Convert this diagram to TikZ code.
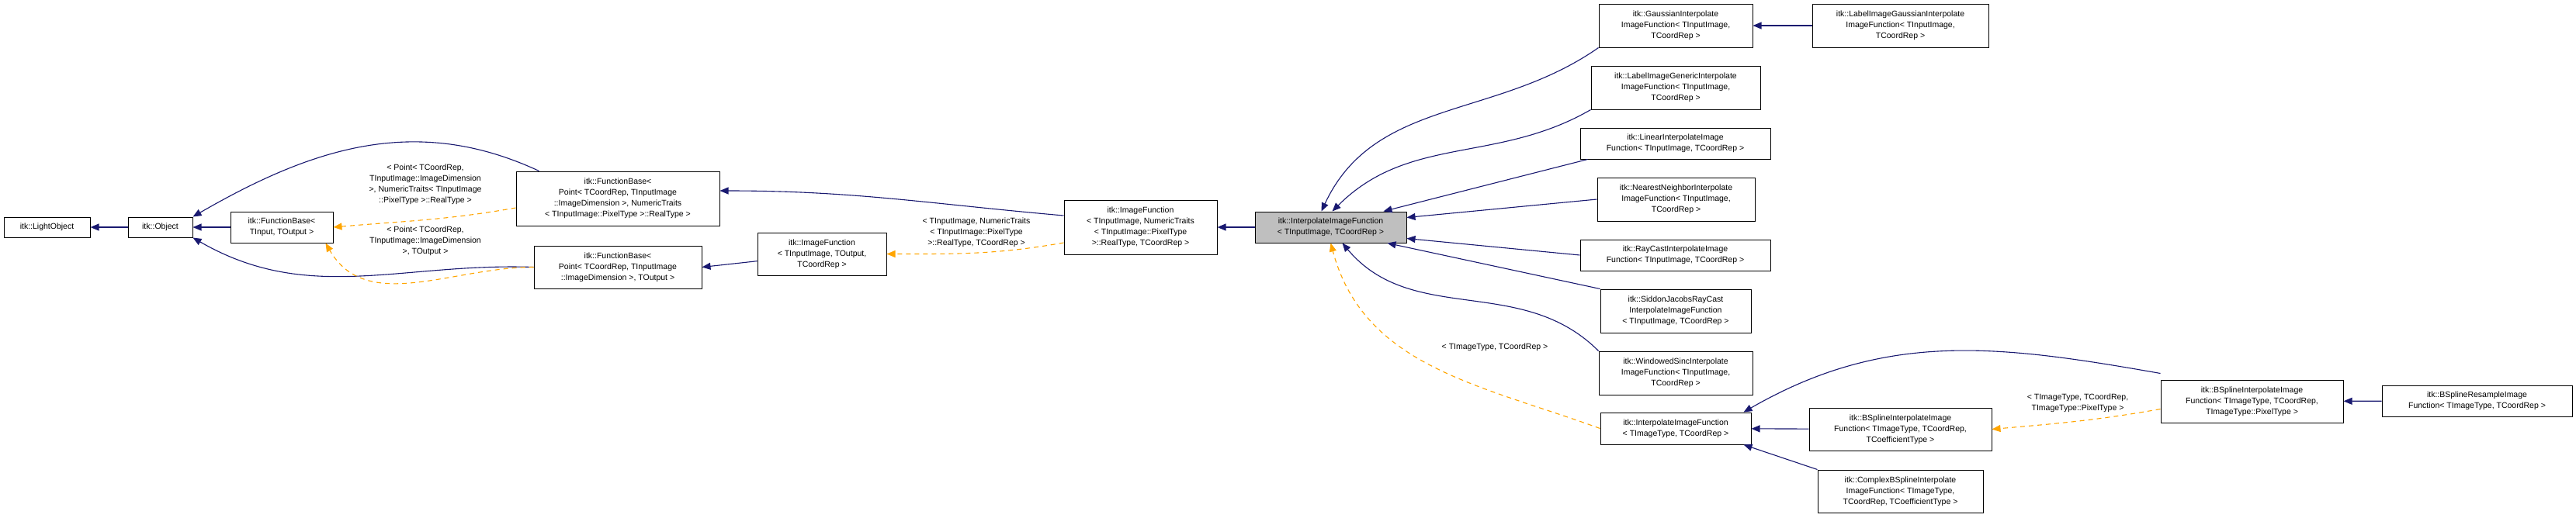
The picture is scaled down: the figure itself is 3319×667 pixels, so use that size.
\documentclass[tikz,border=0pt]{standalone}
\usepackage{fontspec}
\setmainfont{Liberation Sans}
\usetikzlibrary{arrows.meta}
\begin{document}
\begin{tikzpicture}[x=1pt,y=1pt,
  box/.style={draw=black,line width=1pt,fill=white,inner sep=2pt,align=center,font=\fontsize{10.5}{14}\selectfont},
  inh/.style={draw={rgb,255:red,25;green,25;blue,112},line width=1.1pt,-{Triangle[width=9pt,length=11pt]}},
  tpl/.style={draw={rgb,255:red,255;green,165;blue,0},line width=1.1pt,dash pattern=on 6pt off 5pt,-{Triangle[width=9pt,length=11pt]}},
  lbl/.style={align=center,font=\fontsize{10.5}{14}\selectfont,inner sep=0pt}]
\useasboundingbox (0,0) rectangle (3319,-667);
\node[box,minimum width=111,minimum height=26] (lo) at (60.5,-293) {itk::LightObject};
\node[box,minimum width=83,minimum height=26] (ob) at (206.5,-293) {itk::Object};
\node[box,minimum width=132,minimum height=40] (fb1) at (363,-293) {itk::FunctionBase\textless\\TInput, TOutput \textgreater};
\node[box,minimum width=262,minimum height=70] (fb2) at (796,-256) {itk::FunctionBase\textless\\ Point\textless{} TCoordRep, TInputImage\\::ImageDimension \textgreater, NumericTraits\\\textless{} TInputImage::PixelType \textgreater::RealType \textgreater};
\node[box,minimum width=216,minimum height=55] (fb3) at (796,-344.5) {itk::FunctionBase\textless\\ Point\textless{} TCoordRep, TInputImage\\::ImageDimension \textgreater, TOutput \textgreater};
\node[box,minimum width=166,minimum height=55] (if1) at (1059,-327.5) {itk::ImageFunction\\\textless{} TInputImage, TOutput,\\ TCoordRep \textgreater};
\node[box,minimum width=197,minimum height=70] (if2) at (1469.5,-293) {itk::ImageFunction\\\textless{} TInputImage, NumericTraits\\\textless{} TInputImage::PixelType\\ \textgreater::RealType, TCoordRep \textgreater};
\node[box,fill={rgb,255:red,191;green,191;blue,191},minimum width=195,minimum height=40] (ip) at (1714.5,-293) {itk::InterpolateImageFunction\\\textless{} TInputImage, TCoordRep \textgreater};
\node[box,minimum width=198,minimum height=56] (ga) at (2159,-33) {itk::GaussianInterpolate\\ImageFunction\textless{} TInputImage,\\ TCoordRep \textgreater};
\node[box,minimum width=227,minimum height=56] (lga) at (2448.5,-33) {itk::LabelImageGaussianInterpolate\\ImageFunction\textless{} TInputImage,\\ TCoordRep \textgreater};
\node[box,minimum width=218,minimum height=56] (lge) at (2159,-113) {itk::LabelImageGenericInterpolate\\ImageFunction\textless{} TInputImage,\\ TCoordRep \textgreater};
\node[box,minimum width=245,minimum height=40] (li) at (2158.5,-185) {itk::LinearInterpolateImage\\Function\textless{} TInputImage, TCoordRep \textgreater};
\node[box,minimum width=203,minimum height=56] (nn) at (2159.5,-257) {itk::NearestNeighborInterpolate\\ImageFunction\textless{} TInputImage,\\ TCoordRep \textgreater};
\node[box,minimum width=245,minimum height=40] (rc) at (2158.5,-329) {itk::RayCastInterpolateImage\\Function\textless{} TInputImage, TCoordRep \textgreater};
\node[box,minimum width=194,minimum height=56] (sj) at (2159,-401) {itk::SiddonJacobsRayCast\\InterpolateImageFunction\\\textless{} TInputImage, TCoordRep \textgreater};
\node[box,minimum width=198,minimum height=56] (ws) at (2159,-481) {itk::WindowedSincInterpolate\\ImageFunction\textless{} TInputImage,\\ TCoordRep \textgreater};
\node[box,minimum width=194,minimum height=41] (ip2) at (2159,-552.5) {itk::InterpolateImageFunction\\\textless{} TImageType, TCoordRep \textgreater};
\node[box,minimum width=235,minimum height=55] (bsc) at (2448.5,-553.5) {itk::BSplineInterpolateImage\\Function\textless{} TImageType, TCoordRep,\\ TCoefficientType \textgreater};
\node[box,minimum width=213,minimum height=55] (cx) at (2448.5,-633.5) {itk::ComplexBSplineInterpolate\\ImageFunction\textless{} TImageType,\\ TCoordRep, TCoefficientType \textgreater};
\node[box,minimum width=235,minimum height=55] (bsp) at (2901.5,-517.5) {itk::BSplineInterpolateImage\\Function\textless{} TImageType, TCoordRep,\\ TImageType::PixelType \textgreater};
\node[box,minimum width=245,minimum height=40] (rs) at (3191.5,-517) {itk::BSplineResampleImage\\Function\textless{} TImageType, TCoordRep \textgreater};
% labels
\node[lbl] (l1) at (548,-238) {\textless{} Point\textless{} TCoordRep,\\TInputImage::ImageDimension\\\textgreater, NumericTraits\textless{} TInputImage\\::PixelType \textgreater::RealType \textgreater};
\node[lbl] (l2) at (548,-311) {\textless{} Point\textless{} TCoordRep,\\TInputImage::ImageDimension\\\textgreater, TOutput \textgreater};
\node[lbl] (l3) at (1258,-300) {\textless{} TInputImage, NumericTraits\\\textless{} TInputImage::PixelType\\\textgreater::RealType, TCoordRep \textgreater};
\node[lbl] (l4) at (1926,-448) {\textless{} TImageType, TCoordRep \textgreater};
\node[lbl] (l5) at (2677,-520) {\textless{} TImageType, TCoordRep,\\TImageType::PixelType \textgreater};
% edges
\draw[inh] (ob) -- (lo);
\draw[inh] (fb1) -- (ob);
\draw[inh] ([xshift=30]fb2.north west) to[out=155,in=30] (ob.north east);
\draw[inh] (fb3.west) to[out=178,in=-30] (ob.south east);
\draw[tpl] ([yshift=-12]fb2.west) to[out=190,in=5] (fb1.east);
\draw[tpl] (fb3.west) to[out=180,in=-60] ([xshift=-10]fb1.south east);
\draw[inh] (if1) -- (fb3.east);
\draw[inh] ([yshift=15]if2.west) to[out=175,in=0] ([yshift=10]fb2.east);
\draw[tpl] ([yshift=-20]if2.west) to[out=190,in=0] (if1.east);
\draw[inh] (ip) -- (if2);
\draw[inh] (ga.south west) to[out=-145,in=65] ([xshift=-12]ip.north);
\draw[inh] (lge.south west) to[out=-150,in=45] ([xshift=2]ip.north);
\draw[inh] ([xshift=10]li.south west) -- ([xshift=-30]ip.north east);
\draw[inh] (nn.west) -- ([yshift=-8]ip.north east);
\draw[inh] (rc.west) -- ([yshift=6]ip.south east);
\draw[inh] (sj.north west) -- ([xshift=-25]ip.south east);
\draw[inh] (ws.north west) to[out=135,in=-50] ([xshift=15]ip.south);
\draw[tpl] (ip2.west) to[out=160,in=-75] ([xshift=0]ip.south);
\draw[inh] (lga) -- (ga);
\draw[inh] (bsc) -- (ip2);
\draw[inh] (cx.north west) -- ([xshift=-10]ip2.south east);
\draw[inh] ([yshift=8]bsp.north west) to[out=170,in=30] ([xshift=-10]ip2.north east);
\draw[tpl] ([yshift=-10]bsp.west) to[out=190,in=5] (bsc.east);
\draw[inh] (rs) -- (bsp);
\end{tikzpicture}
\end{document}
